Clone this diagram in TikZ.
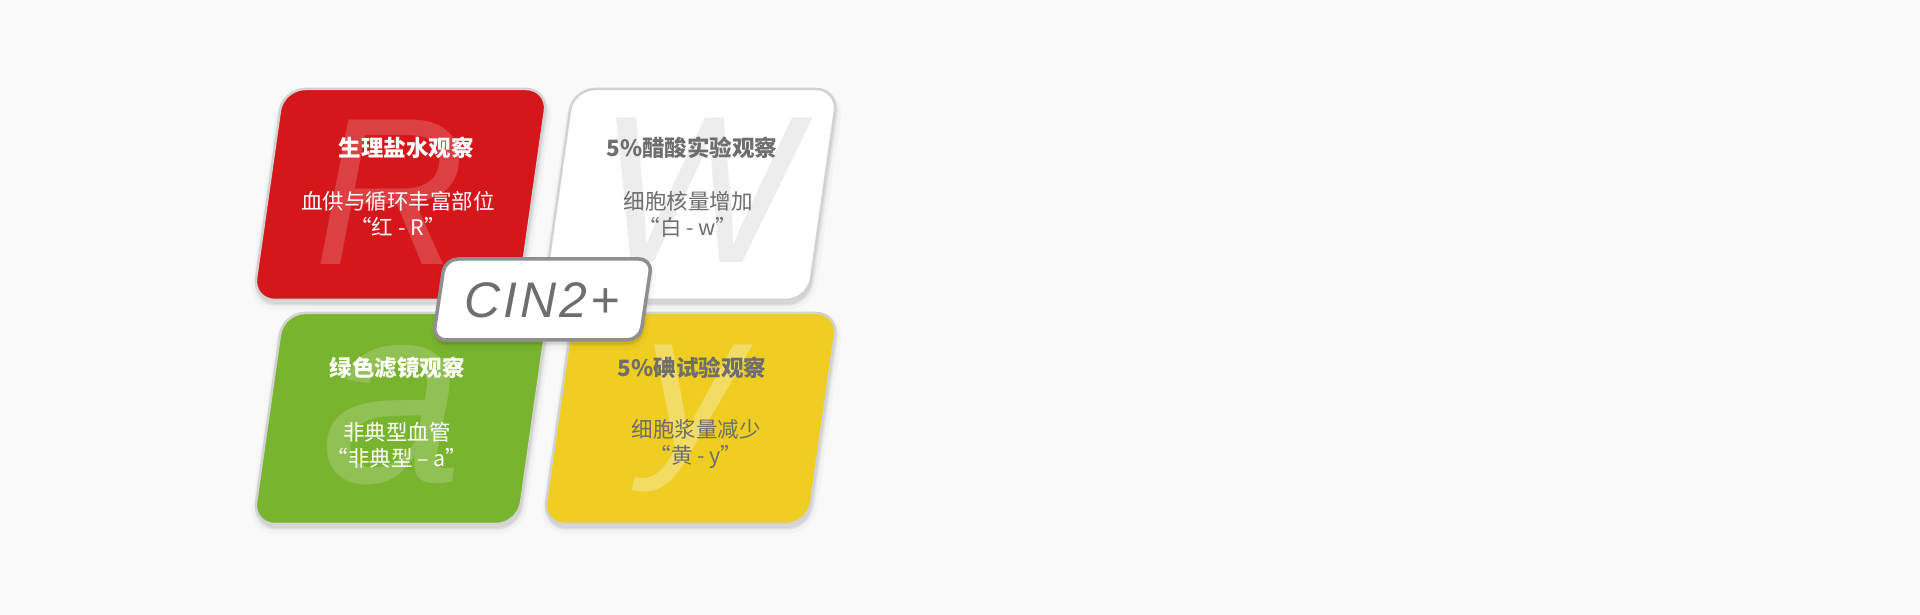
\documentclass[tikz,border=0pt]{standalone}
\usepackage{fontspec}
\setmainfont{Liberation Sans}
\newfontfamily\cjk{Noto Sans CJK SC}
\newfontfamily\cinfont[LetterSpace=6]{Liberation Sans}
\definecolor{bg}{HTML}{F9F9F9}
\definecolor{cardred}{HTML}{D5161A}
\definecolor{cardgreen}{HTML}{79B42F}
\definecolor{cardyellow}{HTML}{EFCD21}
\definecolor{cardline}{HTML}{D2D2D2}
\definecolor{cinline}{HTML}{8F8F8F}
\definecolor{textgray}{HTML}{6E6E6E}
\definecolor{ghostgray}{HTML}{EDEDED}
\newcommand{\cardpath}[2]{(#1,#2) -- ++(265,0) -- ++(30,211) -- ++(-265,0) -- cycle}

\begin{document}
\begin{tikzpicture}
    [
      x=1pt,
      y=1pt,
      softshadow/.style=
      {
        preaction={fill=black, draw=black, line width=10pt, opacity=0.025,
          transform canvas={shift={(1pt,-5pt)}}},
        preaction={fill=black, draw=black, line width=4pt, opacity=0.05,
          transform canvas={shift={(1pt,-4pt)}}},
      },
      card/.style=
      {
        softshadow,
        line width=2.5pt,
        draw=cardline,
        rounded corners=22pt,
      },
      cinbox/.style=
      {
        softshadow,
        line width=3.5pt,
        draw=cinline,
        fill=white,
        rounded corners=13pt,
      },
      ghost/.style=
      {
        inner sep=0pt,
        font=\fontsize{210}{210}\selectfont\itshape
      },
      head/.style=
      {
        inner sep=0pt,
        font=\cjk\bfseries\fontsize{22.5}{27}\selectfont
      },
      body/.style=
      {
        align=center,
        inner sep=0pt,
        font=\cjk\fontsize{21.5}{26}\selectfont
      }
    ]
    \fill[bg] (0,0) rectangle (1920,615);
    \useasboundingbox (0,0) rectangle (1920,615);

    %red
    \draw[card, fill=cardred] \cardpath{253}{315};
    \node[ghost, text=white, text opacity=0.18](ghostR) at (390,423) {R};
    \node[head, text=white](headR) at (406,467) {生理盐水观察};
    \node[body, text=white](bodyR) at (398,401) {血供与循环丰富部位\\“红 - R”};

    %white
    \draw[card, fill=white] \cardpath{543}{315};
    \node[ghost, text=ghostgray](ghostW) at (698,425) {W};
    \node[head, text=textgray](headW) at (692,467) {5\%醋酸实验观察};
    \node[body, text=textgray](bodyW) at (688,401) {细胞核量增加\\“白 - w”};

    %green
    \draw[card, fill=cardgreen] \cardpath{253}{91};
    \node[ghost, text=white, text opacity=0.18,
      font=\fontsize{255}{255}\selectfont\itshape](ghostA) at (392,200) {a};
    \node[head, text=white](headA) at (397,247) {绿色滤镜观察};
    \node[body, text=white](bodyA) at (397,170) {非典型血管\\“非典型 – a”};

    %yellow
    \draw[card, fill=cardyellow] \cardpath{543}{91};
    \node[ghost, text=white, text opacity=0.3,
      font=\fontsize{200}{200}\selectfont\itshape](ghostY) at (693,197) {y};
    \node[head, text=textgray](headY) at (692,247) {5\%碘试验观察};
    \node[body, text=textgray](bodyY) at (696,171) {细胞浆量减少\\“黄 - y”};

    %centre label
    \draw[cinbox] (433,275) -- ++(207,0) -- ++(12,81) -- ++(-207,0) -- cycle;
    \node[text=textgray, inner sep=0pt,
      font=\cinfont\itshape\fontsize{50}{50}\selectfont](cin) at (542,315) {CIN2+};
  \end{tikzpicture}
\end{document}
